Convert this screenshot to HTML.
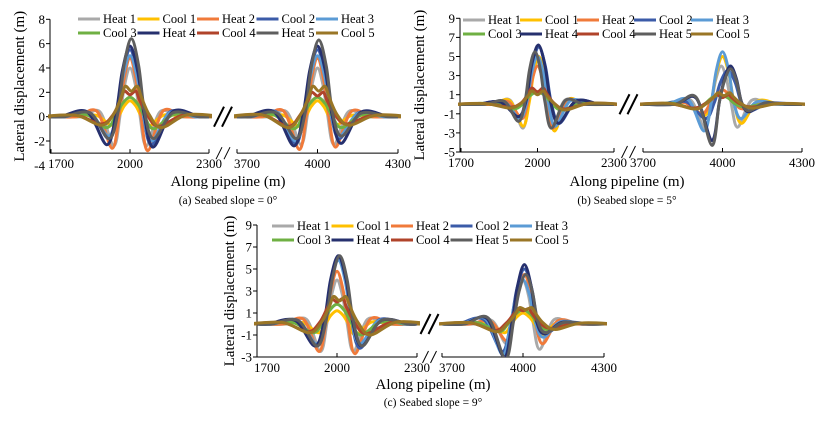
<!DOCTYPE html>
<html><head><meta charset="utf-8"><style>
html,body{margin:0;padding:0;background:#fff;}
svg, svg text{font-family:"Liberation Serif","DejaVu Serif",serif;}
</style></head><body>
<svg id="root" width="820" height="420" viewBox="0 0 820 420" font-family="Liberation Serif, serif"></svg>
<script>
// Series order: Heat1, Cool1, Heat2, Cool2, Heat3, Cool3, Heat4, Cool4, Heat5, Cool5
const seriesNames = ["Heat 1","Cool 1","Heat 2","Cool 2","Heat 3","Cool 3","Heat 4","Cool 4","Heat 5","Cool 5"];
const seriesColors = ["#a9a9a9","#ffc000","#f07a3a","#3b5ba8","#5b9bd5","#6fb043","#26306e","#b0432a","#5e5e5e","#9a7626"];

// Panel (a) slope 0, segment around 2000
const a1Shift = [0,0,0,0,0,0,0,0,5,5];
const a1Peak  = [4.0,1.3,4.8,5.5,5.0,1.6,5.8,2.1,6.4,2.5];
const a1Dip   = [0,0,0,0,0,0,0,0.3,0,0.4];
const a1Left  = [-2.4,-0.7,-2.6,-1.8,-1.6,-0.9,-2.3,-0.6,-1.8,-0.7];
const a1Right = [-2.4,-0.8,-2.8,-2.3,-2.0,-1.0,-2.5,-0.8,-1.8,-0.9];
const a1Dist  = [62,70,68,82,82,90,88,110,85,115];
// Panel (a) segment around 4000
const a2Shift = [0,0,0,0,0,0,0,0,5,5];
const a2Peak  = [4.0,1.3,4.8,5.5,5.0,1.6,5.8,2.0,6.3,2.5];
const a2Dip   = [0,0,0,0,0,0,0,0.3,0,0.4];
const a2Left  = [-2.3,-0.8,-2.7,-2.2,-2.0,-1.0,-2.4,-0.8,-1.8,-0.9];
const a2Right = [-2.3,-0.7,-2.5,-1.8,-1.6,-0.9,-2.2,-0.6,-1.6,-0.7];
const a2Dist  = [62,70,68,82,82,90,88,110,85,115];
// Panel (b) slope 5, around 2000
const b1Shift = [0,5,0,5,0,0,3,0,-10,0];
const b1Peak  = [4.5,5.0,4.0,6.0,5.0,1.3,6.2,1.7,5.5,1.4];
const b1Dip   = [0,0,0,0,0,0,0,0.4,0,0.4];
const b1Left  = [-2.5,-2.3,-1.5,-1.3,-1.5,-0.5,-1.3,-0.3,-1.8,-0.4];
const b1Right = [-2.5,-2.8,-2.5,-2.0,-2.3,-0.6,-2.0,-0.5,-2.5,-0.6];
const b1Dist  = [58,62,62,80,70,95,80,110,65,110];
// Panel (b) around 4000
const b2Shift = [-5,0,0,20,0,-10,30,0,30,5];
const b2Peak  = [4.0,5.0,1.5,3.5,5.5,1.0,4.0,1.0,3.7,1.2];
const b2Dip   = [0,0,0,0,0,0,0,0.3,0,0.3];
const b2Left  = [-2.5,-1.2,-1.0,-1.5,-2.8,-0.5,-3.8,-0.4,-4.3,-0.5];
const b2Right = [-2.4,-2.0,-0.5,-0.7,-1.5,-0.3,-0.8,-0.3,-0.7,-0.4];
const b2Dist  = [62,72,78,85,70,95,70,110,70,110];
// Panel (c) slope 9, around 2000
const c1Shift = [0,0,0,5,5,0,5,0,10,10];
const c1Peak  = [4.0,1.2,4.8,6.0,5.8,1.8,6.2,2.3,6.2,2.5];
const c1Dip   = [0,0,0,0,0,0,0,0.3,0,0.4];
const c1Left  = [-2.5,-0.8,-2.5,-2.0,-1.8,-0.8,-2.0,-0.7,-2.0,-0.8];
const c1Right = [-2.5,-1.0,-2.7,-2.2,-1.8,-1.0,-2.0,-0.9,-2.0,-1.0];
const c1Dist  = [62,70,68,82,82,90,88,110,85,115];
// Panel (c) around 4000
const c2Shift = [0,0,5,5,0,0,5,0,10,10];
const c2Peak  = [4.0,1.0,4.5,5.0,4.0,1.3,5.4,1.4,4.5,1.5];
const c2Dip   = [0,0,0,0,0,0,0,0.2,0,0.2];
const c2Left  = [-1.8,-0.8,-1.5,-2.5,-2.8,-0.7,-3.0,-0.6,-3.2,-0.7];
const c2Right = [-2.3,-1.0,-1.8,-0.8,-1.2,-0.5,-0.9,-0.4,-0.8,-0.5];
const c2Dist  = [62,70,68,82,75,90,75,105,75,110];

const yTicksA = [8,6,4,2,0,-2,-4];
const yTicksB = [9,7,5,3,1,-1,-3,-5];
const yTicksC = [9,7,5,3,1,-1,-3];
const xTicksL = [1700,2000,2300];
const xTicksR = [3700,4000,4300];

const NS="http://www.w3.org/2000/svg";
const FONT='"Liberation Serif", serif';
const root=document.getElementById('root');
function mk(tag,attrs,parent){const e=document.createElementNS(NS,tag);for(const k in attrs)e.setAttribute(k,attrs[k]);if(tag==='text')e.setAttribute('font-family',FONT);(parent||root).appendChild(e);return e;}

function spline(pts){
  let d="M"+pts[0][0].toFixed(1)+","+pts[0][1].toFixed(1);
  for(let i=0;i<pts.length-1;i++){
    const p0=pts[Math.max(0,i-1)],p1=pts[i],p2=pts[i+1],p3=pts[Math.min(pts.length-1,i+2)];
    const c1=[p1[0]+(p2[0]-p0[0])/6,p1[1]+(p2[1]-p0[1])/6];
    const c2=[p2[0]-(p3[0]-p1[0])/6,p2[1]-(p3[1]-p1[1])/6];
    d+="C"+c1[0].toFixed(1)+","+c1[1].toFixed(1)+" "+c2[0].toFixed(1)+","+c2[1].toFixed(1)+" "+p2[0].toFixed(1)+","+p2[1].toFixed(1);
  }
  return d;
}

function keyPoints(c,x0,x1,shift,peak,dip,left,right,d){
  const m=c+shift; const pts=[[x0,0]];
  pts.push([m-3.0*d,0]);
  pts.push([m-1.85*d,0.17*Math.abs(left)]);
  pts.push([m-d,left]);
  pts.push([m-0.6*d,0.05*peak]);
  pts.push([m-0.33*d,0.65*peak]);
  if(dip>0){pts.push([m-0.2*d,peak]);pts.push([m,peak-dip]);pts.push([m+0.2*d,peak]);}
  else pts.push([m,peak]);
  pts.push([m+0.33*d,0.65*peak]);
  pts.push([m+0.6*d,0.05*peak]);
  pts.push([m+d,right]);
  pts.push([m+1.85*d,0.17*Math.abs(right)]);
  pts.push([m+3.0*d,0]);
  pts.push([x1,0]);
  return pts;
}

let clipId=0;
function panel(P){
  const g=mk('g',{});
  
  
  const yS=v=>P.y0+(P.yMax-v)*P.ppu;
  const axisY=yS(P.yAxisMin);
  const segs=[{lo:1700,hi:2300,px0:P.l0,px1:P.l1,c:2000,data:P.left},{lo:3700,hi:4300,px0:P.r0,px1:P.r1,c:4000,data:P.right}];
  const ya=mk('line',{x1:P.ax,y1:yS(P.yMax),x2:P.ax,y2:axisY,stroke:'#000','stroke-width':1},g);
  
  P.yTicks.forEach(v=>{
    const y=yS(v);
    if(y<=axisY+0.5) mk('line',{x1:P.ax-4,y1:y,x2:P.ax,y2:y,stroke:'#000','stroke-width':1},g);
    const t=mk('text',{x:P.ax-5,y:y+4.5,'text-anchor':'end','font-size':13},g);
    t.textContent=v;
    
  });
  segs.forEach((s,si)=>{
    const xS=v=>s.px0+(v-s.lo)/(s.hi-s.lo)*(s.px1-s.px0);
    const xa=mk('line',{x1:si==0?P.ax:s.px0,y1:axisY,x2:s.px1,y2:axisY,stroke:'#000','stroke-width':1},g);
    
    (si==0?xTicksL:xTicksR).forEach((v,i)=>{
      const x=xS(v);
      mk('line',{x1:x,y1:axisY,x2:x,y2:axisY-4,stroke:'#000','stroke-width':1},g);
      const t=mk('text',{x:x+(i==0?P.firstOff:0),y:axisY+15,'text-anchor':'middle','font-size':13},g);
      t.textContent=v;
      
    });
    clipId++;
    const cp=mk('clipPath',{id:'cp'+clipId},g);
    mk('rect',{x:s.px0-3,y:0,width:s.px1-s.px0+6,height:axisY},cp);
    const sg=mk('g',{'clip-path':'url(#cp'+clipId+')'},g);
    const D=s.data;
    for(let k=0;k<10;k++){
      const pts=keyPoints(s.c,s.lo,s.hi,D.shift[k],D.peak[k],D.dip[k],D.left[k],D.right[k],D.dist[k]).map(p=>[xS(p[0]),yS(p[1])]);
      const path=mk('path',{d:spline(pts),fill:'none',stroke:seriesColors[k],'stroke-width':3,'stroke-linejoin':'round'},sg);
      
      
    }
  });
  const bx=(P.l1+P.r0)/2, zy=yS(0);
  [[-4,0],[4,0]].forEach(o=>{
    const l=mk('line',{x1:bx+o[0]-5,y1:zy+10,x2:bx+o[0]+5,y2:zy-10,stroke:'#000','stroke-width':2},g);
    
    mk('line',{x1:bx+o[0]-3,y1:axisY+6,x2:bx+o[0]+3,y2:axisY-6,stroke:'#000','stroke-width':1},g);
  });
  for(let k=0;k<10;k++){
    const row=k<5?0:1, col=k%5;
    const lx=P.legX+col*P.legDx, ly=P.legY+row*14;
    const lg=mk('g',{},g);
    
    mk('line',{x1:lx,y1:ly,x2:lx+22,y2:ly,stroke:seriesColors[k],'stroke-width':3},lg);
    const t=mk('text',{x:lx+25,y:ly+4,'font-size':12.5},lg);
    t.textContent=seriesNames[k];
  }
  const yl=mk('text',{x:0,y:0,transform:`translate(${P.ylx},${(yS(P.yMax)+axisY)/2}) rotate(-90)`,'text-anchor':'middle','font-size':15},g);
  yl.textContent='Lateral displacement (m)';
  
  const xl=mk('text',{x:P.cx,y:P.xly,'text-anchor':'middle','font-size':15},g);
  xl.textContent='Along pipeline (m)';
  
  const cap=mk('text',{x:P.cx,y:P.capy,'text-anchor':'middle','font-size':11.5},g);
  cap.textContent=P.caption;
  
}

panel({name:'panel-a',ax:50,y0:19.3,yMax:8,ppu:12.17,yAxisMin:-3,yTicks:yTicksA,
  l0:51,l1:209,r0:237,r1:398,firstOff:10,
  left:{shift:a1Shift,peak:a1Peak,dip:a1Dip,left:a1Left,right:a1Right,dist:a1Dist},
  right:{shift:a2Shift,peak:a2Peak,dip:a2Dip,left:a2Left,right:a2Right,dist:a2Dist},
  legX:78,legY:19,legDx:59.5,ylx:24,cx:228,xly:186,capy:204,caption:'(a) Seabed slope = 0°'});
panel({name:'panel-b',ax:460,y0:18.3,yMax:9,ppu:9.55,yAxisMin:-5,yTicks:yTicksB,
  l0:461,l1:614,r0:643,r1:802,firstOff:0,
  left:{shift:b1Shift,peak:b1Peak,dip:b1Dip,left:b1Left,right:b1Right,dist:b1Dist},
  right:{shift:b2Shift,peak:b2Peak,dip:b2Dip,left:b2Left,right:b2Right,dist:b2Dist},
  legX:463,legY:20,legDx:57,ylx:424,cx:627,xly:186,capy:204,caption:'(b) Seabed slope = 5°'});
panel({name:'panel-c',ax:257,y0:225,yMax:9,ppu:11,yAxisMin:-3,yTicks:yTicksC,
  l0:257,l1:417,r0:442,r1:604,firstOff:10,
  left:{shift:c1Shift,peak:c1Peak,dip:c1Dip,left:c1Left,right:c1Right,dist:c1Dist},
  right:{shift:c2Shift,peak:c2Peak,dip:c2Dip,left:c2Left,right:c2Right,dist:c2Dist},
  legX:272,legY:226,legDx:59.5,ylx:234,cx:433,xly:389,capy:406,caption:'(c) Seabed slope = 9°'});
</script>
</body></html>
